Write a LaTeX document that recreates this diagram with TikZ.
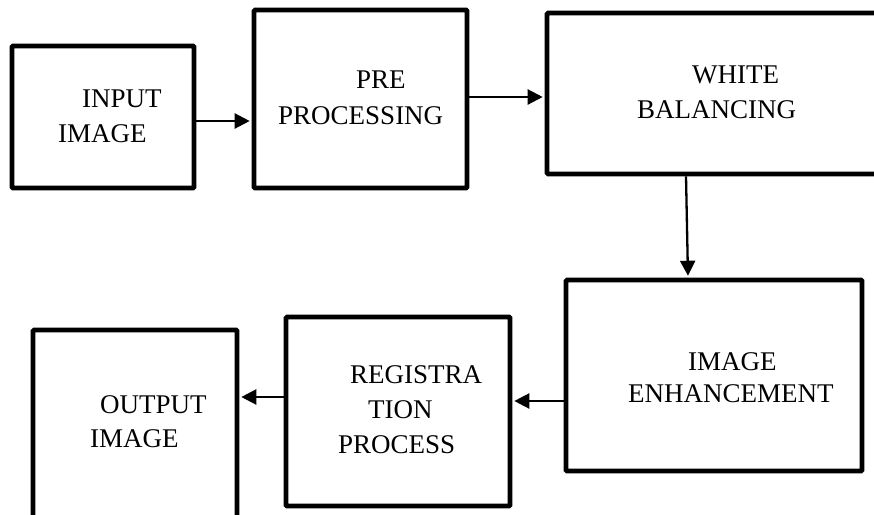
\documentclass[tikz,border=0pt]{standalone}
\usepackage{fontspec}
\setmainfont{Liberation Serif}
\usetikzlibrary{arrows.meta}

\begin{document}
\begin{tikzpicture}[x=1pt,y=-1pt,
  block/.style={draw, line width=4.6pt, rounded corners=1pt, inner sep=0pt},
  txt/.style={anchor=base west, inner sep=0pt, font=\fontsize{27}{36}\selectfont},
  arr/.style={line width=2.3pt, -{Triangle[length=15pt,width=15pt]}, shorten >=2pt}]
\useasboundingbox (0,0) rectangle (874,514);
\clip (0,0) rectangle (874,514);

\node[block, minimum width=182pt, minimum height=142pt] (in) at (103,117) {};
\node[block, minimum width=213pt, minimum height=178pt] (pre) at (360.5,99) {};
\node[block, minimum width=343pt, minimum height=161pt] (wb) at (718.5,93.5) {};
\node[block, minimum width=296pt, minimum height=191pt] (enh) at (714,375.5) {};
\node[block, minimum width=224pt, minimum height=189pt] (reg) at (398,411.5) {};
\node[block, minimum width=204pt, minimum height=210pt] (out) at (135,435) {};

\node[txt] (in1) at (82,107) {INPUT};
\node[txt] (in2) at (58,142) {IMAGE};
\node[txt] (pre1) at (356,88) {PRE};
\node[txt] (pre2) at (278,124) {PROCESSING};
\node[txt] (wb1) at (692,83) {WHITE};
\node[txt] (wb2) at (637,118) {BALANCING};
\node[txt] (enh1) at (688,370) {IMAGE};
\node[txt] (enh2) at (628,402) {ENHANCEMENT};
\node[txt] (reg1) at (350,383) {REGISTRA};
\node[txt] (reg2) at (368,418) {TION};
\node[txt] (reg3) at (338,453) {PROCESS};
\node[txt] (out1) at (100,413) {OUTPUT};
\node[txt] (out2) at (90,447) {IMAGE};

\draw[arr] ([yshift=-4pt]in.east) -- ([yshift=-22pt]pre.west);
\draw[arr] ([yshift=2pt]pre.east) -- ([yshift=-3.5pt]wb.west);
\draw[arr] ([xshift=-32.5pt]wb.south) -- ([xshift=-26pt]enh.north);
\draw[arr] ([yshift=-25.5pt]enh.west) -- ([yshift=10.5pt]reg.east);
\draw[arr] ([yshift=14.5pt]reg.west) -- ([yshift=38pt]out.east);
\end{tikzpicture}
\end{document}
